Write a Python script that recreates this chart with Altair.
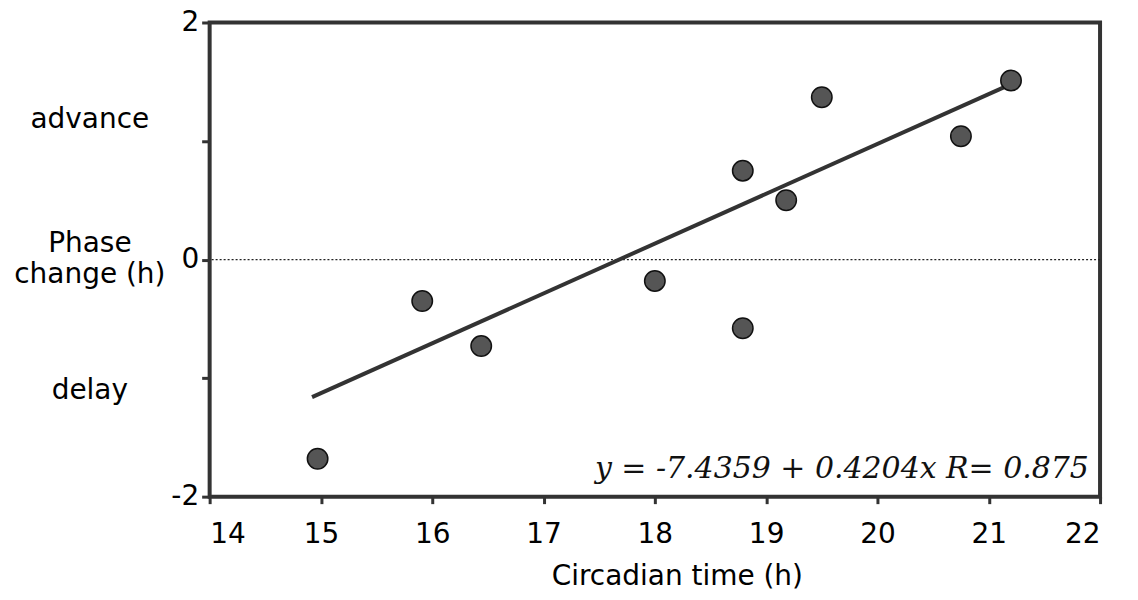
import altair as alt
import pandas as pd

# data
ct = [14.97, 15.91, 16.44, 18.0, 18.79, 18.79, 19.18, 19.50, 20.75, 21.2]
phase = [-1.68, -0.35, -0.73, -0.18, 0.75, -0.58, 0.50, 1.37, 1.04, 1.51]

fit_x = [14.92, 21.2]
fit_y = [-1.16, 1.48]

eq_text = ["y = -7.4359 + 0.4204x R= 0.875"]
eq_x = [21.9]
eq_y = [-1.84]

side_labels = ["advance", "Phase", "change (h)", "delay"]
side_y = [1.11, 0.06, -0.2, -1.18]

x_ticks = [14, 15, 16, 17, 18, 19, 20, 21, 22]
y_ticks = [-2, -1, 0, 1, 2]
y_labelled = [-2, 0, 2]

FONT = "DejaVu Sans"
FS = 28

pts = pd.DataFrame({"ct": ct, "phase": phase})
fit = pd.DataFrame({"ct": fit_x, "phase": fit_y})
eq = pd.DataFrame({"t": eq_text, "ct": eq_x, "phase": eq_y})
side = pd.DataFrame({"t": side_labels, "phase": side_y})
zero = pd.DataFrame({"phase": [0]})

xs = alt.Scale(domain=[14, 22], nice=False, zero=False)
ys = alt.Scale(domain=[-2, 2], nice=False, zero=False)

y_lbl_expr = ("indexof([" + ",".join(str(v) for v in y_labelled) +
              "], datum.value) >= 0 ? toString(datum.value) : ''")

base_x = alt.X("ct:Q", scale=xs, title="Circadian time (h)",
               axis=alt.Axis(values=x_ticks, grid=False, domain=False, tickSize=7, tickWidth=3,
                             tickColor="#333", labelFont=FONT, labelFontSize=FS, labelColor="#000",
                             labelPadding=17, labelExpr="toString(datum.value)",
                             titleFont=FONT, titleFontSize=FS, titleFontWeight="normal",
                             titleColor="#000", titlePadding=14, titleX=468))
base_y = alt.Y("phase:Q", scale=ys, title=None,
               axis=alt.Axis(values=y_ticks, grid=False, domain=False, tickSize=8, tickWidth=3,
                             tickColor="#333", labelFont=FONT, labelFontSize=FS, labelColor="#000",
                             labelPadding=3, labelExpr=y_lbl_expr))

zline = alt.Chart(zero).mark_rule(color="#222", strokeWidth=1.2, strokeDash=[2, 2]).encode(
    y=alt.Y("phase:Q", scale=ys))

fitline = alt.Chart(fit).mark_line(color="#333", strokeWidth=4).encode(x=base_x, y=base_y)

points = alt.Chart(pts).mark_point(shape="circle", filled=True, size=420, fill="#555",
                                   stroke="#111", strokeWidth=1.5, opacity=1).encode(
    x=alt.X("ct:Q", scale=xs), y=alt.Y("phase:Q", scale=ys))

eqtxt = alt.Chart(eq).mark_text(font="DejaVu Serif", fontStyle="italic", fontSize=30,
                                align="right", baseline="alphabetic", color="#111").encode(
    x=alt.X("ct:Q", scale=xs), y=alt.Y("phase:Q", scale=ys), text="t:N")

stxt = alt.Chart(side).mark_text(font=FONT, fontSize=FS, align="center", baseline="alphabetic",
                                 color="#000").encode(
    x=alt.value(-120), y=alt.Y("phase:Q", scale=ys), text="t:N")

chart = alt.layer(zline, fitline, points, eqtxt, stxt).properties(
    width=892, height=475,
    autosize=alt.AutoSizeParams(type="none"),
    padding={"left": 202, "top": 14, "right": 30, "bottom": 95},
    background="white",
).configure_view(stroke="#333", strokeWidth=4)

chart.save("out.html", embed_options={"renderer": "svg", "actions": False})
